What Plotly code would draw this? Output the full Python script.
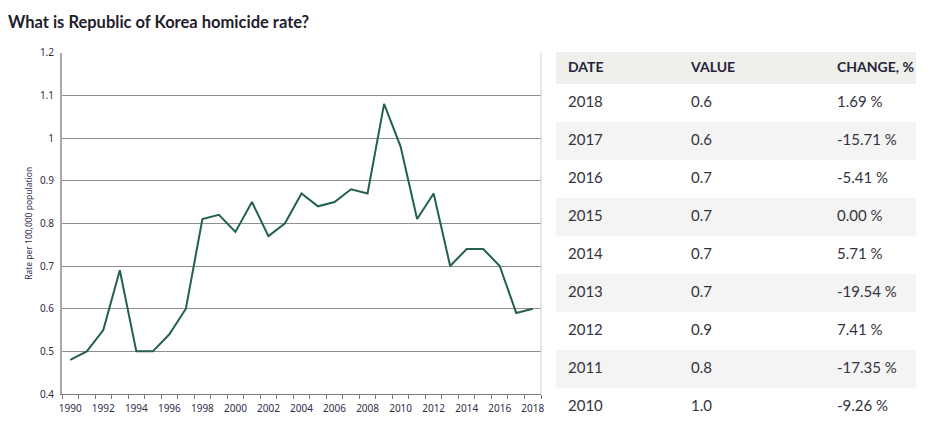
import plotly.graph_objects as go

years = list(range(1990, 2019))
rates = [0.48, 0.50, 0.55, 0.69, 0.50, 0.50, 0.54, 0.60, 0.81, 0.82,
         0.78, 0.85, 0.77, 0.80, 0.87, 0.84, 0.85, 0.88, 0.87, 1.08,
         0.98, 0.81, 0.87, 0.70, 0.74, 0.74, 0.70, 0.59, 0.60]
x_tick_years = list(range(1990, 2019, 2))

table_dates = ["2018", "2017", "2016", "2015", "2014", "2013", "2012", "2011", "2010"]
table_values = ["0.6", "0.6", "0.7", "0.7", "0.7", "0.7", "0.9", "0.8", "1.0"]
table_changes = ["1.69 %", "-15.71 %", "-5.41 %", "0.00 %", "5.71 %",
                 "-19.54 %", "7.41 %", "-17.35 %", "-9.26 %"]
table_headers = ["DATE", "VALUE", "CHANGE, %"]

# page is rendered with the browser's 8px body margin
OFF = 8
W, H = 929 - OFF, 422 - OFF
def px(x): return max((x - OFF) / W, 0)
def py(y): return min(max(1 - (y - OFF) / H, 0), 1)

# table geometry (pixel units inside the table subplot)
TABLE_W = 360
HEADER_H = 32
ROW_H = 38
TABLE_H = 422 - 52
col_text_x = [12, 135, 281]

AXIS_TEXT = "#2e2e4c"

fig = go.Figure()
fig.add_trace(go.Scatter(
    x=years, y=rates, mode="lines",
    line=dict(color="#24614b", width=2),
    hoverinfo="x+y", showlegend=False,
    xaxis="x", yaxis="y",
))

# table row backgrounds
n = len(table_dates)
row_centers = [HEADER_H / 2] + [HEADER_H + ROW_H * (i + 0.5) for i in range(n)]
row_heights = [HEADER_H] + [ROW_H] * n
row_colors = ["#efefeb"] + ["white" if i % 2 == 0 else "#f4f4f4" for i in range(n)]
fig.add_trace(go.Bar(
    x=[TABLE_W] * (n + 1), y=row_centers, width=row_heights, base=0,
    orientation="h", marker=dict(color=row_colors, line=dict(width=0)),
    hoverinfo="skip", showlegend=False, xaxis="x2", yaxis="y2",
))

# header text
fig.add_trace(go.Scatter(
    x=col_text_x, y=[row_centers[0]] * 3, mode="text",
    text=["<b>%s</b>" % h for h in table_headers], textposition="middle right",
    textfont=dict(family="Lato", size=14, color="#24243a"),
    hoverinfo="skip", showlegend=False, xaxis="x2", yaxis="y2", cliponaxis=False,
))
# body text
for cx, col in zip(col_text_x, [table_dates, table_values, table_changes]):
    fig.add_trace(go.Scatter(
        x=[cx] * n, y=row_centers[1:], mode="text",
        text=col, textposition="middle right",
        textfont=dict(family="Lato", size=15, color="#333340"),
        hoverinfo="skip", showlegend=False, xaxis="x2", yaxis="y2", cliponaxis=False,
    ))

fig.update_layout(
    width=W, height=H,
    margin=dict(l=0, r=0, t=0, b=0, autoexpand=False),
    paper_bgcolor="white", plot_bgcolor="white",
    title=dict(
        text="<b>What is Republic of Korea homicide rate?</b>",
        x=px(7), y=py(22), xanchor="left", yanchor="middle", xref="paper", yref="paper",
        automargin=False,
        font=dict(family="Lato", size=16.5, color="#1e1e2e"),
    ),
    xaxis=dict(
        domain=[px(62), px(541)],
        range=[1989.5, 2018.5], automargin=False,
        tickvals=x_tick_years, ticktext=[str(y) for y in x_tick_years],
        ticks="outside", ticklen=5, tickcolor="rgba(0,0,0,0)",
        showgrid=False, zeroline=False,
        showline=True, linecolor="#7a7a7a", linewidth=1.3,
        tickfont=dict(family="Noto Sans", size=10, color=AXIS_TEXT),
        minor=dict(tick0=1989.5, dtick=1, ticks="outside", ticklen=4,
                   tickcolor="#7a7a7a", showgrid=False),
    ),
    yaxis=dict(
        domain=[py(394), py(52.7)], automargin=False,
        range=[0.4, 1.2], dtick=0.1, tick0=0.4,
        showgrid=True, gridcolor="#8f8f8f", gridwidth=1,
        zeroline=False, showline=True, linecolor="#a8a8a8", linewidth=2,
        ticks="outside", ticklen=4, tickcolor="rgba(0,0,0,0)",
        tickfont=dict(family="Noto Sans", size=10, color=AXIS_TEXT),
        title=dict(text="Rate per 100,000 population", standoff=6,
                   font=dict(family="Noto Sans", size=8.5, color=AXIS_TEXT)),
    ),
    xaxis2=dict(
        domain=[px(556), px(916)], range=[0, TABLE_W], anchor="y2",
        visible=False, fixedrange=True,
    ),
    yaxis2=dict(
        domain=[py(422), py(52)], range=[TABLE_H, 0], anchor="x2",
        visible=False, fixedrange=True,
    ),
    bargap=0,
    shapes=[dict(type="line", xref="x domain", yref="y domain",
                 x0=1, x1=1, y0=0, y1=1, line=dict(color="#cccccc", width=1))],
)

fig.write_html("out.html")
